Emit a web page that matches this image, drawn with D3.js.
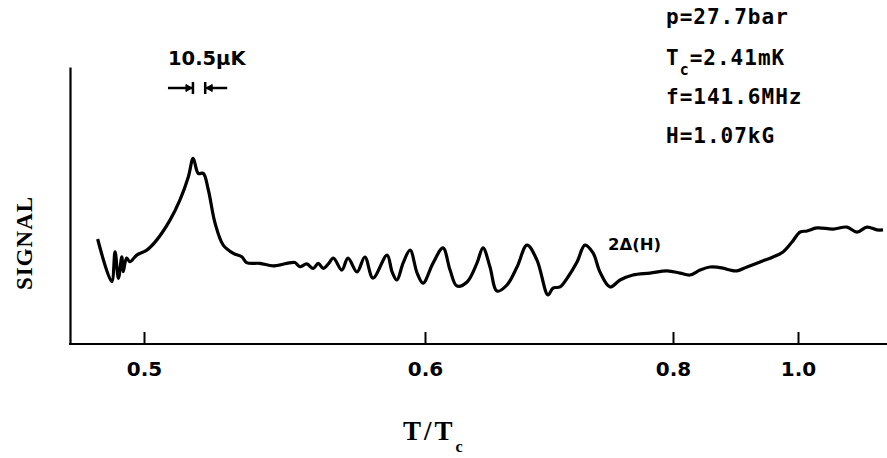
<!DOCTYPE html>
<html>
<head>
<meta charset="utf-8">
<script src="https://cdn.jsdelivr.net/npm/d3@7"></script>
<style>
	body { margin: 0; background: #fff; }
	svg { display: block; }
</style>
</head>
<body>
<div id="chart"></div>
<script>
// Trace: T/Tc and signal (arbitrary units, 0-100 over the y axis)
var tRatio = [
	0.4835, 0.4885, 0.4897, 0.4909, 0.4921, 0.4926, 0.4938, 0.4950, 0.4974, 0.5010,
	0.5045, 0.5093, 0.5128, 0.5158, 0.5175, 0.5193, 0.5211, 0.5229, 0.5253, 0.5282,
	0.5318, 0.5348, 0.5365, 0.5413, 0.5460, 0.5508, 0.5537, 0.5555, 0.5579, 0.5602,
	0.5620, 0.5638, 0.5656, 0.5674, 0.5704, 0.5726, 0.5758, 0.5786, 0.5815, 0.5865,
	0.5883, 0.5900, 0.5922, 0.5947, 0.5972, 0.5993, 0.6065, 0.6145, 0.6202, 0.6258,
	0.6339, 0.6419, 0.6468, 0.6524, 0.6581, 0.6661, 0.6742, 0.6823, 0.6903, 0.6992,
	0.7032, 0.7089, 0.7153, 0.7226, 0.7290, 0.7355, 0.7411, 0.7492, 0.7573, 0.7677,
	0.7815, 0.7952, 0.8112, 0.8272, 0.8432, 0.8592, 0.8800, 0.8912, 0.9024, 0.9184,
	0.9392, 0.9600, 0.9760, 0.9904, 1.0032, 1.0144, 1.0304, 1.0560, 1.0784, 1.0944,
	1.1104, 1.1264, 1.1360
];
var signal = [
	37.9, 22.5, 33.3, 23.7, 31.5, 26.1, 31.0, 29.7, 32.1, 33.9,
	37.5, 44.8, 52.0, 60.4, 67.0, 61.6, 61.6, 55.6, 43.6, 35.7,
	32.7, 31.5, 29.4, 29.1, 28.2, 29.1, 29.4, 27.9, 28.9, 27.3,
	29.1, 27.3, 28.9, 31.0, 26.7, 31.0, 26.0, 31.4, 23.8, 32.1,
	26.0, 23.1, 29.2, 33.9, 25.6, 22.0, 29.2, 34.7, 26.7, 20.9,
	22.4, 29.2, 34.7, 27.8, 19.1, 21.3, 27.8, 35.7, 30.3, 17.7,
	20.2, 20.6, 24.2, 29.6, 35.7, 32.9, 26.0, 20.6, 23.1, 24.9,
	25.6, 26.4, 25.6, 24.9, 26.7, 27.8, 27.4, 26.7, 26.4, 27.8,
	29.6, 31.4, 33.2, 36.8, 40.4, 40.8, 41.9, 41.5, 42.2, 40.4,
	42.2, 41.2, 41.2
];
var xTicks = [0.5, 0.6, 0.8, 1.0];
var conditions = ['p=27.7bar', 'T|c|=2.41mK', 'f=141.6MHz', 'H=1.07kG'];

// Resolution marker: 10.5 uK at Tc = 2.41 mK, centred on the peak
var markerWidth = 10.5e-3 / 2.41;
var markerCentre = 0.5196;

var svgWidth = 887;
var svgHeight = 458;

var svg = d3.select('#chart').append('svg')
	.attr('width', svgWidth)
	.attr('height', svgHeight);

// T/Tc axis of the original is not linear, so the scale runs piecewise through the labelled ticks
var xScale = d3.scaleLinear().domain(xTicks).range([144, 425, 673, 798]);
var yScale = d3.scaleLinear().domain([0, 100]).range([344, 67]);

// y axis: bare line
svg.append('g')
	.attr('transform', 'translate(70,0)')
	.call(d3.axisLeft(yScale).ticks(0).tickSizeOuter(0))
	.call(g => g.select('.domain').attr('stroke', '#000').attr('stroke-width', 2.2));

// x axis baseline runs across the whole frame
svg.append('line')
	.attr('x1', 69).attr('x2', svgWidth)
	.attr('y1', 344).attr('y2', 344)
	.attr('stroke', '#000').attr('stroke-width', 2.2);

var xAxis = svg.append('g')
	.attr('transform', 'translate(0,344)')
	.call(d3.axisBottom(xScale)
		.tickValues(xTicks)
		.tickFormat(d3.format('.1f'))
		.tickSizeInner(-12)
		.tickSizeOuter(0)
		.tickPadding(18));
xAxis.select('.domain').remove();
xAxis.selectAll('line').attr('stroke', '#000').attr('stroke-width', 2);
xAxis.selectAll('text')
	.attr('fill', '#000')
	.style('font-family', 'DejaVu Sans')
	.style('font-weight', 'bold')
	.style('font-size', '20px');

// signal trace
var line = d3.line()
	.x((d, i) => xScale(tRatio[i]))
	.y((d) => yScale(d))
	.curve(d3.curveCatmullRom.alpha(0.5));

svg.append('path')
	.datum(signal)
	.attr('d', line)
	.attr('fill', 'none')
	.attr('stroke', '#000')
	.attr('stroke-width', 3.2)
	.attr('stroke-linejoin', 'round');

// axis titles
svg.append('text')
	.attr('transform', 'translate(32,243) rotate(-90)')
	.attr('text-anchor', 'middle')
	.style('font-family', 'Liberation Serif')
	.style('font-weight', 'bold')
	.style('font-size', '23px')
	.style('letter-spacing', '1px')
	.text('SIGNAL');

var xTitle = svg.append('text')
	.attr('x', 403)
	.attr('y', 440)
	.style('font-family', 'Liberation Serif')
	.style('font-weight', 'bold')
	.style('font-size', '27px')
	.style('letter-spacing', '3px');
xTitle.append('tspan').text('T/T');
xTitle.append('tspan').attr('dy', 12).style('font-size', '16px').text('c');

// 10.5 uK resolution marker
svg.append('text')
	.attr('x', 168)
	.attr('y', 65)
	.style('font-family', 'DejaVu Sans')
	.style('font-weight', 'bold')
	.style('font-size', '19.5px')
	.text('10.5\u03bcK');

var mL = xScale(markerCentre - markerWidth / 2);
var mR = xScale(markerCentre + markerWidth / 2);
var mY = 88;
var marker = svg.append('g').attr('stroke', '#000').attr('stroke-width', 2.5).attr('fill', 'none');
marker.append('line').attr('x1', mL - 25).attr('x2', mL - 1).attr('y1', mY).attr('y2', mY);
marker.append('line').attr('x1', mL).attr('x2', mL).attr('y1', mY - 6).attr('y2', mY + 6);
marker.append('line').attr('x1', mR + 1).attr('x2', mR + 22).attr('y1', mY).attr('y2', mY);
marker.append('line').attr('x1', mR).attr('x2', mR).attr('y1', mY - 6).attr('y2', mY + 6);
// small arrow heads pointing at the bars
marker.append('path')
	.attr('d', `M${mL - 7},${mY - 3.5}L${mL - 1},${mY}L${mL - 7},${mY + 3.5}Z`)
	.attr('fill', '#000').attr('stroke-width', 1);
marker.append('path')
	.attr('d', `M${mR + 7},${mY - 3.5}L${mR + 1},${mY}L${mR + 7},${mY + 3.5}Z`)
	.attr('fill', '#000').attr('stroke-width', 1);

// 2Δ(H) label
svg.append('text')
	.attr('x', 608)
	.attr('y', 250)
	.style('font-family', 'DejaVu Sans')
	.style('font-weight', 'bold')
	.style('font-size', '16.5px')
	.text('2\u0394(H)');

// experimental conditions, top right
var condBaselines = [24, 65, 104, 143];
conditions.forEach(function(c, i) {
	var t = svg.append('text')
		.attr('x', 666)
		.attr('y', condBaselines[i])
		.style('font-family', 'DejaVu Sans Mono')
		.style('font-weight', 'bold')
		.style('font-size', '21px')
		.style('letter-spacing', '1px');
	var parts = c.split('|');
	if (parts.length === 3) {
		t.append('tspan').text(parts[0]);
		t.append('tspan').attr('dy', 10).style('font-size', '15px').text(parts[1]);
		t.append('tspan').attr('dy', -10).text(parts[2]);
	} else {
		t.text(c);
	}
});
</script>
</body>
</html>
